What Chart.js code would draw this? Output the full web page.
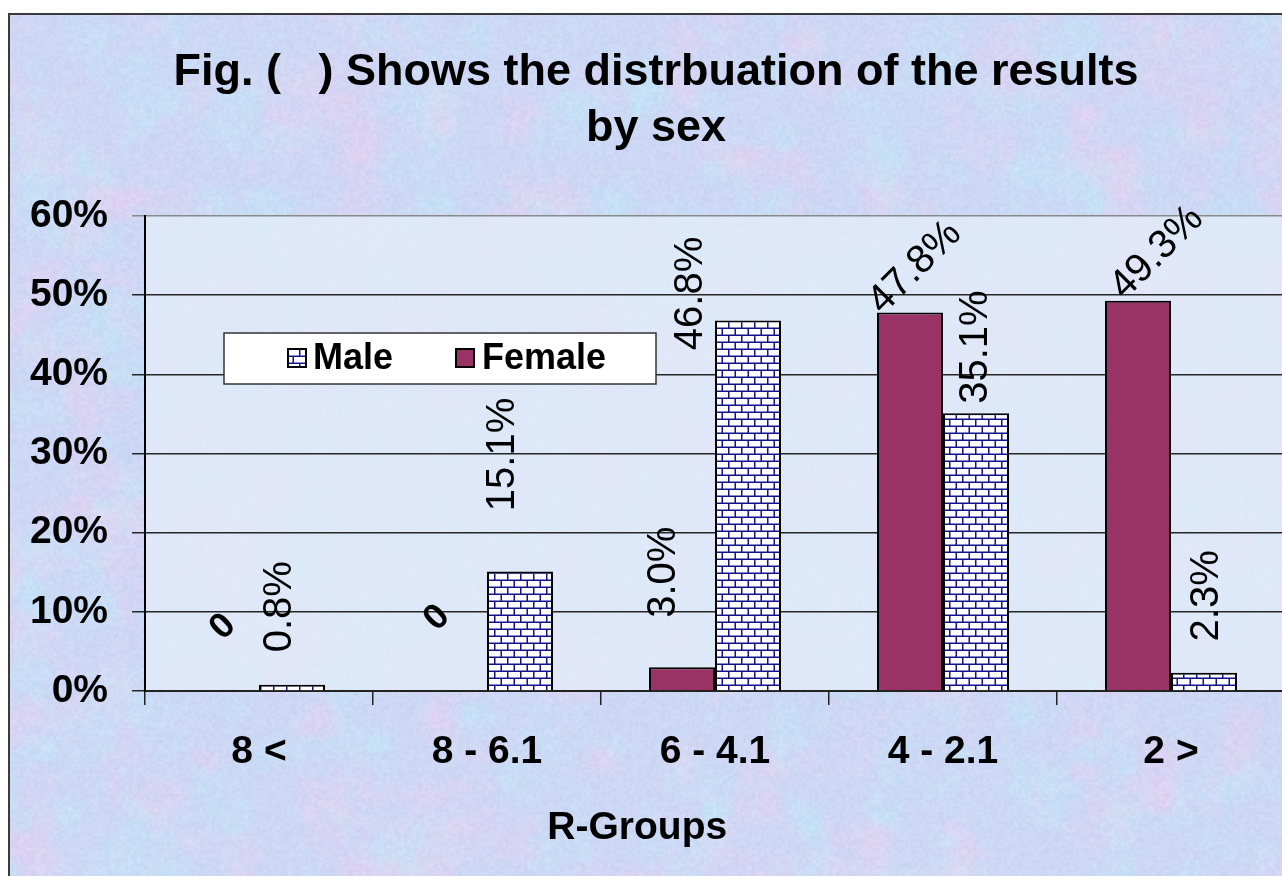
<!DOCTYPE html>
<html><head><meta charset="utf-8">
<script src="https://cdn.jsdelivr.net/npm/chart.js@4"></script>
<style>
html,body{margin:0;padding:0;background:#fff;overflow:hidden;width:1282px;height:876px}
#wrap{position:absolute;left:0;top:0;width:1290px;height:876px}
</style></head>
<body><div id="wrap"><canvas id="c" width="1290" height="876"></canvas></div>
<script>
// ---- data ----
const categories = ['8 <', '8 - 6.1', '6 - 4.1', '4 - 2.1', '2 >'];
const femaleValues = [0, 0, 3.0, 47.8, 49.3];
const maleValues = [0.8, 15.1, 46.8, 35.1, 2.3];
const yTickValues = [0, 10, 20, 30, 40, 50, 60];
const seriesNames = ['Female', 'Male'];
const titleLines = ['Fig. (   ) Shows the distrbuation of the results', 'by sex'];
const xAxisTitle = 'R-Groups';

// ---- label presentation (rotation in degrees, nudge from bar top) ----
const femaleLabelRot = [-45, -45, -90, -45, -45];
const maleLabelRot = [-90, -90, -90, -90, -90];
const femaleLabelShift = [[-3, -64], [-17, -73], [-18, -95], [5, -45], [19, -48]];
const maleLabelShift = [[-12, -78], [-17, -117], [-57, -27], [0, -66], [3, -77]];

const FONT = '"Liberation Sans", Arial, sans-serif';
Chart.defaults.font.family = FONT;

function brickCanvas() {
  const c = document.createElement('canvas'); c.width = 13; c.height = 14;
  const g = c.getContext('2d');
  g.fillStyle = '#fff'; g.fillRect(0, 0, 13, 14);
  g.fillStyle = '#12128a';
  g.fillRect(0, 5.5, 13, 1.5); g.fillRect(0, 12.5, 13, 1.5);
  g.fillRect(0, 0, 1.5, 6); g.fillRect(6.5, 7, 1.5, 6);
  return c;
}
const canvas = document.getElementById('c');
const mainCtx = canvas.getContext('2d');
const brick = mainCtx.createPattern(brickCanvas(), 'repeat');

// decorative paper texture (deterministic hash-based value noise)
function hash(ix, iy, s) {
  const v = Math.sin(ix * 127.1 + iy * 311.7 + s * 74.7) * 43758.5453;
  return v - Math.floor(v);
}
function vnoise(x, y, cell, s) {
  const fx = x / cell, fy = y / cell;
  const ix = Math.floor(fx), iy = Math.floor(fy);
  let tx = fx - ix, ty = fy - iy;
  tx = tx * tx * (3 - 2 * tx); ty = ty * ty * (3 - 2 * ty);
  const a = hash(ix, iy, s), b = hash(ix + 1, iy, s), c = hash(ix, iy + 1, s), d = hash(ix + 1, iy + 1, s);
  return (a * (1 - tx) + b * tx) * (1 - ty) + (c * (1 - tx) + d * tx) * ty;
}
function makeTexture(w, h) {
  const c = document.createElement('canvas'); c.width = w; c.height = h;
  const g = c.getContext('2d'); const img = g.createImageData(w, h); const d = img.data;
  for (let y = 0; y < h; y++) {
    for (let x = 0; x < w; x++) {
      const pink = Math.min(1, Math.max(0, (vnoise(x, y, 40, 1) * 0.7 + vnoise(x, y, 14, 2) * 0.3 - 0.45) * 1.8));
      const teal = Math.min(1, Math.max(0, (vnoise(x, y, 34, 3) * 0.7 + vnoise(x, y, 12, 4) * 0.3 - 0.5) * 1.8));
      const grain = (vnoise(x, y, 3, 5) - 0.5) * 9 + (hash(x, y, 6) - 0.5) * 5;
      let r = 204, gg = 216, b = 244;
      r += 22 * pink - 10 * teal; gg += -8 * pink + 12 * teal; b += -2 * pink + 2 * teal;
      const i = (y * w + x) * 4;
      d[i] = r + grain; d[i + 1] = gg + grain; d[i + 2] = b + grain * 0.6; d[i + 3] = 255;
    }
  }
  g.putImageData(img, 0, 0);
  return c;
}
const texture = makeTexture(1290, 876);

const backgroundPlugin = {
  id: 'bg',
  beforeDraw(chart) {
    const ctx = chart.ctx, a = chart.chartArea;
    ctx.save();
    ctx.fillStyle = '#fff'; ctx.fillRect(0, 0, chart.width, chart.height);
    ctx.drawImage(texture, 9, 14, chart.width - 9, chart.height - 14, 9, 14, chart.width - 9, chart.height - 14);
    ctx.fillStyle = 'rgba(228,238,250,0.72)';
    ctx.fillRect(a.left, a.top, a.right - a.left, a.bottom - a.top);
    ctx.strokeStyle = '#3a3a3a'; ctx.lineWidth = 2;
    ctx.beginPath(); ctx.moveTo(9, chart.height); ctx.lineTo(9, 14); ctx.lineTo(chart.width, 14); ctx.stroke();
    ctx.restore();
  },
  afterDraw(chart) {
    const ctx = chart.ctx;
    ctx.save();
    ctx.font = 'bold 39px ' + FONT; ctx.fillStyle = '#000';
    ctx.textAlign = 'center'; ctx.textBaseline = 'middle';
    ctx.fillText(xAxisTitle, chart.width * 0.494, 828);
    ctx.restore();
  }
};

const legendPlugin = {
  id: 'customLegend',
  beforeDatasetsDraw(chart) {
    const ctx = chart.ctx;
    ctx.save();
    ctx.fillStyle = '#fff'; ctx.fillRect(224, 333, 432, 51);
    ctx.strokeStyle = '#333'; ctx.lineWidth = 1.5; ctx.strokeRect(224, 333, 432, 51);
    const items = [
      { name: seriesNames[1], fill: brick, sx: 288, tx: 313 },
      { name: seriesNames[0], fill: '#993366', sx: 456, tx: 482 }
    ];
    ctx.font = 'bold 36px ' + FONT; ctx.textBaseline = 'middle'; ctx.textAlign = 'left';
    items.forEach(it => {
      ctx.fillStyle = it.fill; ctx.fillRect(it.sx, 349, 18, 18);
      ctx.strokeStyle = '#000'; ctx.lineWidth = 2; ctx.strokeRect(it.sx, 349, 18, 18);
      ctx.fillStyle = '#000'; ctx.fillText(it.name, it.tx, 359);
    });
    ctx.restore();
  }
};

const labelPlugin = {
  id: 'barLabels',
  afterDatasetsDraw(chart) {
    const ctx = chart.ctx;
    const specs = [
      { rot: femaleLabelRot, shift: femaleLabelShift },
      { rot: maleLabelRot, shift: maleLabelShift }
    ];
    chart.data.datasets.forEach((ds, di) => {
      const meta = chart.getDatasetMeta(di);
      meta.data.forEach((el, i) => {
        const v = ds.data[i];
        const txt = v === 0 ? '0' : v.toFixed(1) + '%';
        const s = specs[di];
        ctx.save();
        ctx.translate(el.x + s.shift[i][0], el.y + s.shift[i][1]);
        ctx.rotate(s.rot[i] * Math.PI / 180);
        ctx.font = (v === 0 ? 'bold 36px ' : '40px ') + FONT;
        ctx.fillStyle = '#000'; ctx.textAlign = 'center'; ctx.textBaseline = 'middle';
        ctx.fillText(txt, 0, 0);
        ctx.restore();
      });
    });
  }
};

new Chart(canvas, {
  type: 'bar',
  data: {
    labels: categories,
    datasets: [
      { label: seriesNames[0], data: femaleValues, backgroundColor: '#993366', borderColor: '#000', borderWidth: 2,
        categoryPercentage: 0.579, barPercentage: 1.0 },
      { label: seriesNames[1], data: maleValues, backgroundColor: brick, borderColor: '#000', borderWidth: 2,
        categoryPercentage: 0.579, barPercentage: 1.0 }
    ]
  },
  options: {
    responsive: false,
    animation: false,
    layout: { padding: { left: 27, right: 5, top: 0, bottom: 0 } },
    plugins: {
      legend: { display: false },
      tooltip: { enabled: false },
      title: {
        display: true, text: titleLines, color: '#000',
        font: { size: 45, weight: 'bold', lineHeight: 56 / 45 },
        padding: { top: 44.5, bottom: 59.5 }
      }
    },
    scales: {
      x: {
        grid: { offset: true, drawOnChartArea: false, drawTicks: true, tickLength: 14, color: '#222', lineWidth: 1.5 },
        border: { display: true, color: '#222', width: 2 },
        ticks: { color: '#000', font: { size: 39, weight: 'bold' }, padding: 24, maxRotation: 0, autoSkip: false },
        afterFit(scale) { scale.height = 185; }
      },
      y: {
        min: 0, max: 60,
        afterBuildTicks(scale) { scale.ticks = yTickValues.map(v => ({ value: v })); },
        grid: { color: ctx => (ctx.tick && ctx.tick.value === 60 ? '#8a8a8a' : '#262626'), lineWidth: 1.5, tickLength: 13, drawTicks: true },
        border: { display: true, color: '#000', width: 2 },
        ticks: { color: '#000', font: { size: 39, weight: 'bold' }, padding: 24, callback: v => v + '%' },
        afterFit(scale) { scale.width = 118; }
      }
    }
  },
  plugins: [backgroundPlugin, legendPlugin, labelPlugin]
});
</script>
</body></html>
